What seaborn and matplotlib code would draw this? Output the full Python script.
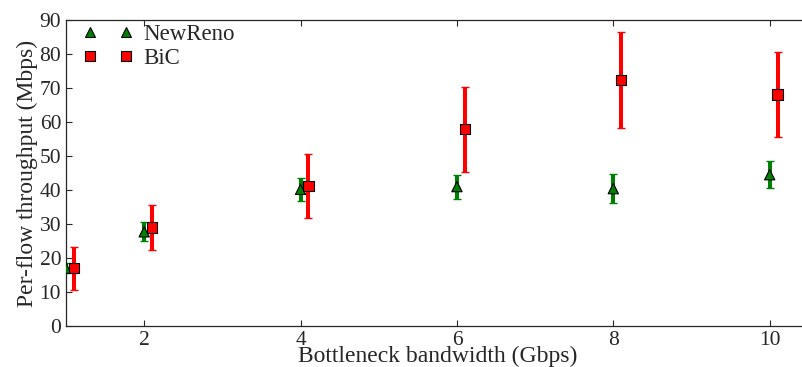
import matplotlib
matplotlib.use("Agg")
import matplotlib.pyplot as plt
import seaborn as sns
import pandas as pd
from matplotlib.lines import Line2D

bandwidth = [1, 2, 4, 6, 8, 10]
newreno_mean = [17.0, 27.7, 40.2, 41.0, 40.4, 44.5]
newreno_err = [1.5, 2.8, 3.4, 3.5, 4.2, 4.0]
bic_x = [1.1, 2.1, 4.1, 6.1, 8.1, 10.1]
bic_mean = [17.0, 29.0, 41.1, 57.9, 72.4, 68.1]
bic_err = [6.3, 6.6, 9.4, 12.5, 14.2, 12.4]
series_names = ["NewReno", "BiC"]
colors = {"NewReno": "#008000", "BiC": "#ff0000"}
markers = {"NewReno": "^", "BiC": "s"}

sns.set_style("ticks")
plt.rcParams["font.family"] = ["Liberation Serif", "DejaVu Serif"]

df = pd.concat([
    pd.DataFrame({"x": bandwidth, "y": newreno_mean, "err": newreno_err, "proto": "NewReno"}),
    pd.DataFrame({"x": bic_x, "y": bic_mean, "err": bic_err, "proto": "BiC"}),
])

fig = plt.figure(figsize=(8.03, 3.67), dpi=100)
ax = fig.add_axes([0.0822, 0.1117, 0.925, 0.8338])

for name in series_names:
    d = df[df["proto"] == name]
    ax.errorbar(d["x"], d["y"], yerr=d["err"], fmt="none", ecolor=colors[name],
                elinewidth=2.9, capsize=2.6, capthick=1.0, zorder=2)

sns.scatterplot(data=df, x="x", y="y", hue="proto", style="proto",
                palette=colors, markers=markers, s=55, edgecolor="black",
                linewidth=0.8, legend=False, ax=ax, zorder=3)

ax.set_xlim(1, 10.5)
ax.set_ylim(0, 90)
ax.set_xticks([2, 4, 6, 8, 10])
ax.set_yticks(range(0, 91, 10))
ax.tick_params(direction="in", top=True, right=True, labelsize=15.5, length=4, width=0.8, pad=3.5)
for s in ax.spines.values():
    s.set_linewidth(0.9)
ax.set_xlabel("Bottleneck bandwidth (Gbps)", fontsize=17)
ax.xaxis.set_label_coords(0.5, -0.119)
ax.xaxis.label.set_verticalalignment("baseline")
ax.set_ylabel("Per-flow throughput (Mbps)", fontsize=17, labelpad=1)

handles = [Line2D([], [], linestyle="none", marker=markers[n], markersize=7,
                  markerfacecolor=colors[n], markeredgecolor="black", markeredgewidth=0.8)
           for n in series_names]
ax.legend(handles, series_names, loc="upper left", bbox_to_anchor=(-0.005, 1.056),
          numpoints=2, frameon=False, fontsize=16.5, handlelength=2.2,
          handletextpad=0.45, labelspacing=0.15)

fig.savefig("out.png", dpi=100)
